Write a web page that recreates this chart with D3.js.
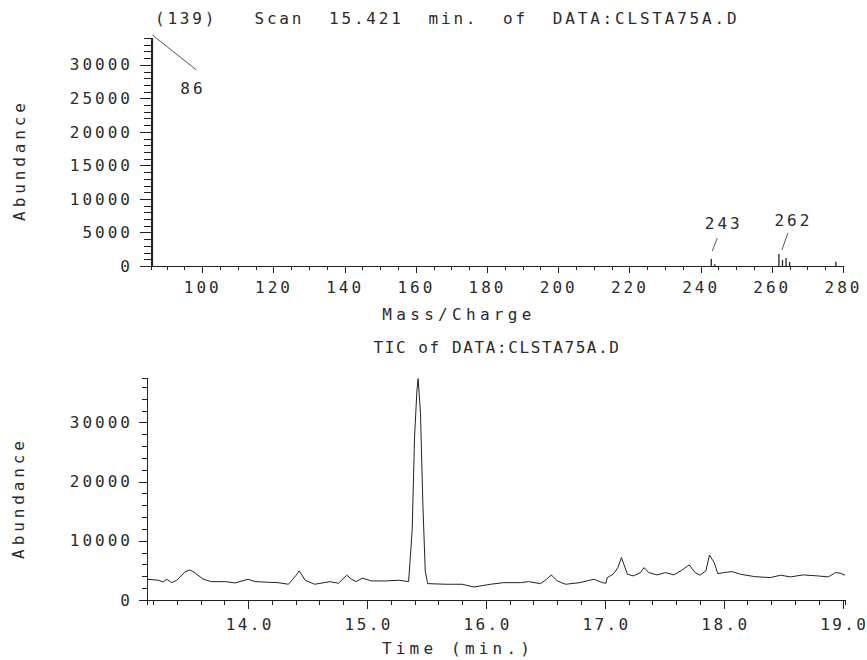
<!DOCTYPE html>
<html>
<head>
<meta charset="utf-8">
<script src="https://cdn.jsdelivr.net/npm/d3@7"></script>
<style>
  body { margin: 0; background: #fff; }
  svg text { font-family: "DejaVu Sans Mono", "Liberation Mono", monospace; fill: #2a2a2a; font-size: 16px; white-space: pre; }
  .axis path, .axis line { stroke: #222; stroke-width: 1; shape-rendering: crispEdges; }
</style>
</head>
<body>
<svg width="867" height="660"></svg>
<script>
// mass spectrum (scan 139)
var massCharge = [86, 243, 244, 262, 263, 264, 265, 278];
var massAbund  = [34000, 1050, 250, 1800, 900, 1200, 600, 650];
var massTicks  = [100, 120, 140, 160, 180, 200, 220, 240, 260, 280];
var massYTicks = [0, 5000, 10000, 15000, 20000, 25000, 30000];
var peakLabels = [86, 243, 262];

// total ion chromatogram
var ticTime = [13.15, 13.245, 13.285, 13.316, 13.358, 13.40, 13.47, 13.51, 13.55, 13.62, 13.69, 13.81, 13.89, 14.00, 14.06,
  14.25, 14.34, 14.40, 14.43, 14.48, 14.56, 14.69, 14.76, 14.83, 14.87, 14.91, 14.96, 15.04, 15.15, 15.27, 15.35,
  15.38, 15.40, 15.42, 15.43, 15.45, 15.47, 15.49, 15.51, 15.66, 15.80, 15.90, 16.04, 16.15, 16.29, 16.36, 16.46,
  16.51, 16.55, 16.60, 16.67, 16.79, 16.91, 16.98, 17.01, 17.02, 17.07, 17.11, 17.14, 17.16, 17.19, 17.24, 17.30,
  17.33, 17.37, 17.44, 17.51, 17.58, 17.64, 17.71, 17.76, 17.80, 17.85, 17.88, 17.92, 17.95, 18.00, 18.07, 18.14,
  18.26, 18.39, 18.48, 18.56, 18.67, 18.79, 18.88, 18.94, 18.98, 19.02];
var ticAbund = [3500, 3340, 3050, 3500, 2930, 3340, 4750, 5080, 4630, 3550, 3100, 3100, 2880, 3500, 3100,
  2930, 2660, 4070, 4920, 3340, 2660, 3100, 2830, 4190, 3500, 3100, 3680, 3220, 3220, 3340, 3100,
  11700, 27500, 35400, 37400, 31500, 16200, 4900, 2770, 2660, 2660, 2200, 2660, 2930, 2930, 3100, 2760,
  3500, 4240, 3220, 2660, 2930, 3500, 2930, 2830, 3780, 4360, 5470, 7170, 6050, 4360, 4070, 4630,
  5470, 4630, 4240, 4630, 4240, 4920, 5930, 4630, 4190, 4920, 7580, 6330, 4460, 4630, 4800, 4360,
  3950, 3780, 4190, 3900, 4240, 4070, 3900, 4630, 4530, 4190];
var timeTicks = [14, 15, 16, 17, 18, 19];
var ticYTicks = [0, 10000, 20000, 30000];

var svg = d3.select("svg");

// ---------- top panel: spectrum ----------
var x1 = d3.scaleLinear().domain([85.6, 280]).range([151, 843]);
var y1 = d3.scaleLinear().domain([0, 34000]).range([266, 38]);

svg.append("g").attr("class", "axis")
    .attr("transform", "translate(0," + y1(0) + ")")
    .call(d3.axisBottom(x1).tickValues(d3.range(90, 281, 5)).tickSize(4).tickFormat(""));
svg.append("g").attr("class", "axis")
    .attr("transform", "translate(0," + y1(0) + ")")
    .call(d3.axisBottom(x1).tickValues(massTicks).tickSize(7).tickPadding(9).tickFormat(d3.format("d")))
    .call(g => g.select(".domain").remove())
    .selectAll("text").attr("letter-spacing", "3");

svg.append("g").attr("class", "axis")
    .attr("transform", "translate(" + x1.range()[0] + ",0)")
    .call(d3.axisLeft(y1).tickValues(d3.range(0, 34001, 1000)).tickSize(7).tickFormat(""));
svg.append("g").attr("class", "axis")
    .attr("transform", "translate(" + x1.range()[0] + ",0)")
    .call(d3.axisLeft(y1).tickValues(massYTicks).tickSize(11).tickPadding(10).tickFormat(d3.format("d")))
    .call(g => g.select(".domain").remove())
    .selectAll("text").attr("letter-spacing", "3").attr("dx", "3");

svg.append("g").selectAll("line")
    .data(massCharge.map((m, i) => ({ m: m, a: massAbund[i] })))
    .enter().append("line")
    .attr("x1", d => x1(d.m)).attr("x2", d => x1(d.m))
    .attr("y1", y1(0)).attr("y2", d => y1(d.a))
    .attr("stroke", "#222").attr("stroke-width", 1.3);

// peak labels with leader lines
peakLabels.forEach(function (m) {
    var a = massAbund[massCharge.indexOf(m)];
    var px = x1(m), py = y1(a);
    var seg, tx, ty;
    if (m === 86) { seg = [px, py - 3, px + 44, py + 32]; tx = px + 39; ty = py + 56; }
    else if (m === 243) { seg = [px + 1, py - 8, px + 6, py - 21]; tx = px + 11; ty = py - 30; }
    else { seg = [px + 3, py - 4, px + 9, py - 21]; tx = px + 13; ty = py - 28; }
    svg.append("line").attr("x1", seg[0]).attr("y1", seg[1]).attr("x2", seg[2]).attr("y2", seg[3])
        .attr("stroke", "#555").attr("stroke-width", 1);
    svg.append("text").attr("x", tx).attr("y", ty).attr("text-anchor", "middle")
        .attr("letter-spacing", "3").attr("dx", "1.5").text(m);
});

svg.append("text").attr("x", 155).attr("y", 24)
    .attr("letter-spacing", "2.8").text("(139)   Scan  15.421  min.  of  DATA:CLSTA75A.D");
svg.append("text").attr("x", 457).attr("y", 320).attr("text-anchor", "middle")
    .attr("letter-spacing", "4.3").attr("dx", "2").text("Mass/Charge");
svg.append("text").attr("transform", "translate(25,160) rotate(-90)").attr("text-anchor", "middle")
    .attr("letter-spacing", "3.9").text("Abundance");

// ---------- bottom panel: TIC ----------
var x2 = d3.scaleLinear().domain([13.15, 19.02]).range([147, 845]);
var y2 = d3.scaleLinear().domain([0, 37500]).range([600, 378]);

svg.append("g").attr("class", "axis")
    .attr("transform", "translate(0," + y2(0) + ")")
    .call(d3.axisBottom(x2).tickValues(d3.range(13.2, 19.01, 0.2)).tickSize(5).tickFormat(""));
svg.append("g").attr("class", "axis")
    .attr("transform", "translate(0," + y2(0) + ")")
    .call(d3.axisBottom(x2).tickValues(timeTicks).tickSize(9).tickPadding(10).tickFormat(d3.format(".1f")))
    .call(g => g.select(".domain").remove())
    .selectAll("text").attr("letter-spacing", "2.4").attr("dx", "1.2");

svg.append("g").attr("class", "axis")
    .attr("transform", "translate(" + x2.range()[0] + ",0)")
    .call(d3.axisLeft(y2).tickValues(d3.range(0, 37501, 2000)).tickSize(5).tickFormat(""));
svg.append("g").attr("class", "axis")
    .attr("transform", "translate(" + x2.range()[0] + ",0)")
    .call(d3.axisLeft(y2).tickValues(ticYTicks).tickSize(8).tickPadding(9).tickFormat(d3.format("d")))
    .call(g => g.select(".domain").remove())
    .selectAll("text").attr("letter-spacing", "3").attr("dx", "3");

svg.append("path")
    .datum(ticTime.map((t, i) => [t, ticAbund[i]]))
    .attr("fill", "none").attr("stroke", "#222").attr("stroke-width", 1)
    .attr("d", d3.line().x(d => x2(d[0])).y(d => y2(d[1])));

svg.append("text").attr("x", 497).attr("y", 353).attr("text-anchor", "middle")
    .attr("letter-spacing", "1.6").text("TIC of DATA:CLSTA75A.D");
svg.append("text").attr("x", 456).attr("y", 654).attr("text-anchor", "middle")
    .attr("letter-spacing", "4.2").attr("dx", "2").text("Time (min.)");
svg.append("text").attr("transform", "translate(24,498) rotate(-90)").attr("text-anchor", "middle")
    .attr("letter-spacing", "3.9").text("Abundance");
</script>
</body>
</html>
